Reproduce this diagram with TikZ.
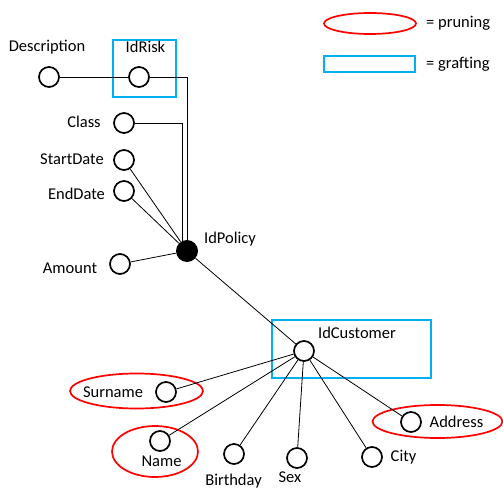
\documentclass[tikz,border=0pt]{standalone}
\usepackage{fontspec}
\setmainfont{Carlito}
\definecolor{graftblue}{RGB}{0,176,240}
\begin{document}
\begin{tikzpicture}[x=1pt,y=-1pt,
  attr/.style={circle,draw,line width=1.7pt,minimum size=20pt,inner sep=0pt,fill=white},
  keyattr/.style={circle,fill=black,minimum size=22pt,inner sep=0pt},
  lbl/.style={inner sep=0pt,font=\fontsize{16.5}{18}\selectfont},
  link/.style={line width=0.8pt},
  prune/.style={draw=red,line width=1.7pt},
  graft/.style={draw=graftblue,line width=1.7pt}]
\useasboundingbox (0,0) rectangle (503,489);

% legend
\draw[prune] (370,23.5) ellipse [x radius=46,y radius=10.5];
\node[lbl,anchor=west] (lp) at (426,23) {= pruning};
\draw[graft] (324,56) rectangle (415,72);
\node[lbl,anchor=west] (lg) at (426,64) {= grafting};

% grafting boxes
\draw[graft] (113,40) rectangle (176,97);
\draw[graft] (272,320) rectangle (431,378);

% pruning ellipses
\draw[prune] (136.5,391) ellipse [x radius=66.5,y radius=17.5];
\draw[prune] (155,451.5) ellipse [x radius=43,y radius=25.5];
\draw[prune] (437.5,421.5) ellipse [x radius=65,y radius=16.5];

% attribute nodes
\node[attr] (desc) at (49,77) {};
\node[attr] (risk) at (139,77) {};
\node[attr] (class) at (124,123) {};
\node[attr] (start) at (124,160) {};
\node[attr] (end) at (124,191) {};
\node[attr] (amount) at (120,264) {};
\node[keyattr] (policy) at (187,251) {};
\node[attr] (cust) at (304,351) {};
\node[attr] (surname) at (166,392) {};
\node[attr] (name) at (160,441) {};
\node[attr] (birth) at (234,454) {};
\node[attr] (sex) at (297,458) {};
\node[attr] (city) at (372,457) {};
\node[attr] (addr) at (411,422) {};

% labels
\node[lbl] (tdesc) at (47,47) {Description};
\node[lbl] (trisk) at (145.5,47) {IdRisk};
\node[lbl] (tclass) at (84,122) {Class};
\node[lbl] (tstart) at (72,159) {StartDate};
\node[lbl] (tend) at (76.5,194) {EndDate};
\node[lbl] (tamount) at (70,268) {Amount};
\node[lbl] (tpolicy) at (230,239) {IdPolicy};
\node[lbl] (tcust) at (357,333) {IdCustomer};
\node[lbl] (tsurname) at (113,392) {Surname};
\node[lbl] (tname) at (161.5,461) {Name};
\node[lbl] (tbirth) at (233.5,481) {Birthday};
\node[lbl] (tsex) at (290,477) {Sex};
\node[lbl] (tcity) at (403.5,457) {City};
\node[lbl] (taddr) at (456.5,422) {Address};

% connectors
\coordinate (rbend) at (187,77);
\coordinate (cbend) at (182,123);
\draw[link] (desc) -- (risk);
\draw[link] (risk) -- (rbend) -- (policy);
\draw[link] (class) -- (cbend) -- (cbend |- policy.north west);
\draw[link] (start) -- (policy);
\draw[link] (end) -- (policy);
\draw[link] (amount) -- (policy);
\draw[link] (policy) -- (cust);
\draw[link] (cust) -- (surname);
\draw[link] (cust) -- (name);
\draw[link] (cust) -- (birth);
\draw[link] (cust) -- (sex);
\draw[link] (cust) -- (city);
\draw[link] (cust) -- (addr);
\end{tikzpicture}
\end{document}
